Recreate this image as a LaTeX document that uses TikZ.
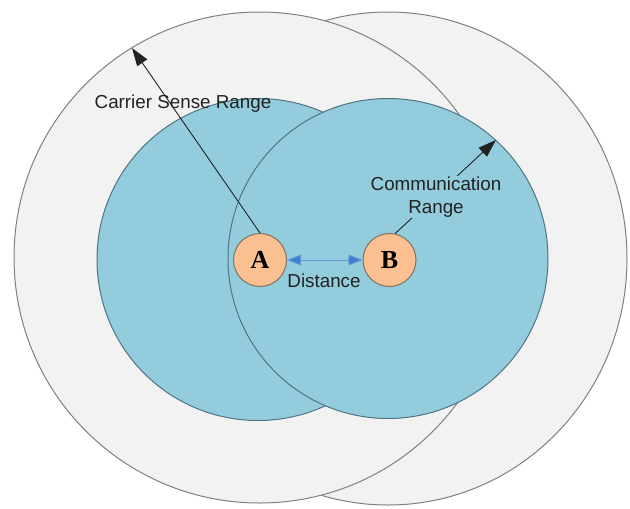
\documentclass[tikz,border=0pt]{standalone}
\usepackage{fontspec}
\setmainfont{Liberation Sans}
\newfontfamily\serifletters{Liberation Serif}
\usetikzlibrary{arrows.meta}
\definecolor{outerfill}{HTML}{F2F2F2}
\definecolor{outerline}{HTML}{808080}
\definecolor{commfill}{HTML}{93CDDD}
\definecolor{commline}{HTML}{4F7585}
\definecolor{nodefill}{HTML}{FAC090}
\definecolor{nodeline}{HTML}{7F7262}
\definecolor{distblue}{HTML}{3F7FD0}
\definecolor{txt}{HTML}{222222}
\tikzset{
  outerrange/.style={fill=outerfill, draw=outerline, line width=1pt},
  commrange/.style={fill=commfill, draw=commline, line width=1pt},
  station/.style={circle, fill=nodefill, draw=nodeline, line width=1pt, minimum size=53pt, inner sep=0pt, font=\serifletters\bfseries\fontsize{26}{26}\selectfont},
  rangelabel/.style={text=txt, font=\fontsize{18.8}{23}\selectfont, inner sep=1pt},
  rangearrow/.style={draw=txt, line width=0.9pt, -{Triangle[length=18pt,width=12pt]}},
  distarrow/.style={draw=distblue!80, line width=0.9pt, {Triangle[length=14pt,width=11pt,fill=distblue]}-{Triangle[length=14pt,width=11pt,fill=distblue]}}
}
\begin{document}
\begin{tikzpicture}[x=1pt,y=-1pt]
\useasboundingbox (0,0) rectangle (630,509);
% carrier sense ranges
\draw[outerrange] (388,258.5) ellipse [x radius=239, y radius=246.5];
\draw[outerrange] (259.5,257.5) circle [radius=245.5];
% communication ranges
\draw[commrange] (258,259.5) circle [radius=161];
\draw[commrange] (388,258.5) circle [radius=160];
% stations
\node[station] (A) at (260,260) {A};
\node[station] (B) at (389.5,260) {B};
% range arrow ends
\coordinate (cs) at (132,48);
\coordinate (cr) at (496,140);
\draw[rangearrow] (A.north) -- (cs);
\draw[rangearrow] (B.78) -- (cr);
\draw[distarrow] (A.east) -- (B.west);
% labels
\node[rangelabel] (cslabel) at (183,104) {Carrier Sense Range};
\node[rangelabel, fill=commfill, align=center] (crlabel) at (436,197) {Communication\\Range};
\node[rangelabel] (distlabel) at (324,281) {Distance};
\end{tikzpicture}
\end{document}
